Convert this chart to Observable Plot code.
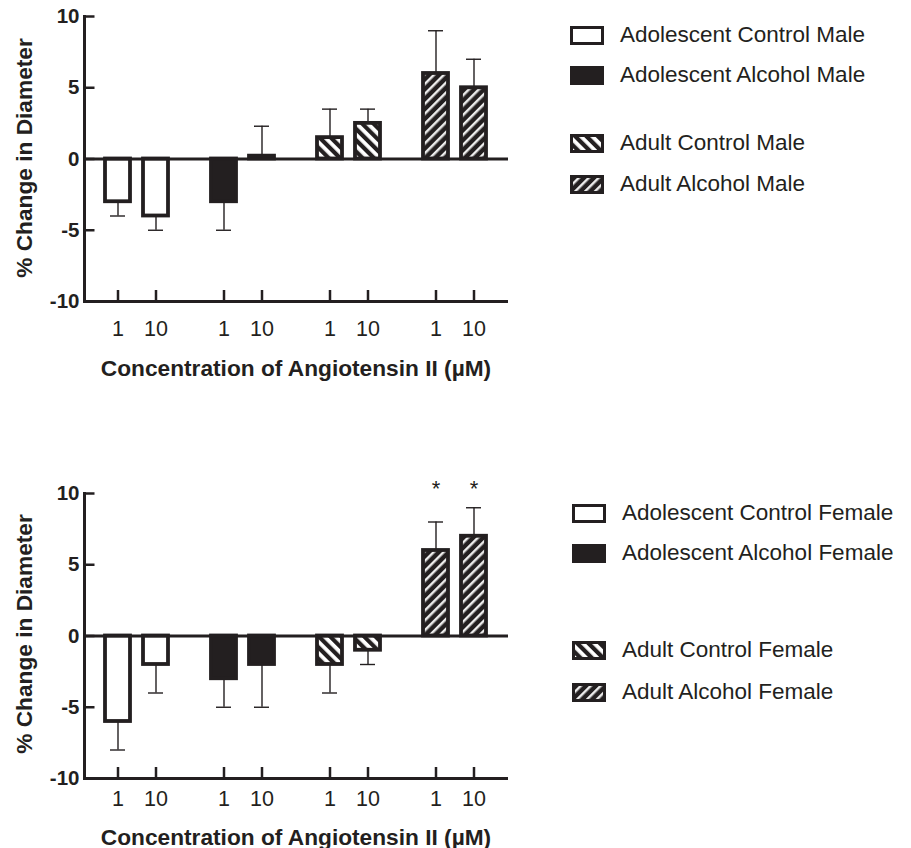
<!DOCTYPE html>
<html><head><meta charset="utf-8">
<script src="https://cdn.jsdelivr.net/npm/d3@7"></script>
<script src="https://cdn.jsdelivr.net/npm/@observablehq/plot@0.6"></script>
<style>
body{margin:0;background:#fff;font-family:Arial,"Liberation Sans",Helvetica,sans-serif;color:#231f20}
#root{position:relative;width:911px;height:848px;overflow:hidden}
.ylab{position:absolute;font-weight:bold;font-size:22.7px;white-space:nowrap;transform:translate(-50%,-50%) rotate(-90deg)}
.xlab{position:absolute;font-weight:bold;font-size:22.7px;white-space:nowrap;transform:translate(-50%,-50%)}
.leg{position:absolute;font-size:22.5px;white-space:nowrap;display:flex;align-items:center;height:30px}
.leg svg{margin-right:16px;flex:none}
</style></head>
<body>
<svg width="0" height="0" style="position:absolute">
  <defs>
    <pattern id="pAdultControl" patternUnits="userSpaceOnUse" width="8" height="8" patternTransform="rotate(-45)">
      <rect width="8" height="8" fill="#ffffff"/>
      <rect width="4.2" height="8" fill="#231f20"/>
    </pattern>
    <pattern id="pAdultAlcohol" patternUnits="userSpaceOnUse" width="7" height="7" patternTransform="rotate(45)">
      <rect width="7" height="7" fill="#231f20"/>
      <rect width="2.5" height="7" fill="#ececec"/>
    </pattern>
  </defs>
</svg>
<div id="root"></div>
<script>
// ---------- data ----------
const doses = ["1", "10"];
const groups = ["Adolescent Control", "Adolescent Alcohol", "Adult Control", "Adult Alcohol"];
const groupFills = ["#ffffff", "#231f20", "url(#pAdultControl)", "url(#pAdultAlcohol)"];
const yTicks = [-10, -5, 0, 5, 10];

// order: group0 dose1, group0 dose10, group1 dose1, ...
const maleMean = [-3, -4, -3, 0.2, 1.5, 2.5, 6, 5];
const maleErr  = [1, 1, 2, 2.1, 2, 1, 3, 2];
const maleSig  = [false, false, false, false, false, false, false, false];

const femaleMean = [-6, -2, -3, -2, -2, -1, 6, 7];
const femaleErr  = [2, 2, 2, 3, 2, 1, 2, 2];
const femaleSig  = [false, false, false, false, false, false, true, true];

const maleLegend = ["Adolescent Control Male", "Adolescent Alcohol Male", "Adult Control Male", "Adult Alcohol Male"];
const femaleLegend = ["Adolescent Control Female", "Adolescent Alcohol Female", "Adult Control Female", "Adult Alcohol Female"];

const yTitle = "% Change in Diameter";
const xTitle = "Concentration of Angiotensin II (µM)";

// ---------- drawing ----------
const ink = "#231f20";
const font = 'Arial, "Liberation Sans", Helvetica, sans-serif';
const root = document.getElementById("root");

function makePanel(mean, err, sig, tickPad) {
  const rows = [];
  groups.forEach((g, gi) => doses.forEach((d, di) => {
    const i = gi * doses.length + di;
    rows.push({group: g, dose: d, mean: mean[i],
      tip: mean[i] + (mean[i] < 0 ? -err[i] : err[i]), sig: sig[i]});
  }));
  const W = 520, mL = 83, mR = 11, mT = 16, frameH = 285, mB = 50;
  const facetW = (W - mL - mR) / groups.length;
  return Plot.plot({
    width: W, height: mT + frameH + mB,
    marginLeft: mL, marginRight: mR, marginTop: mT, marginBottom: mB,
    style: {fontFamily: font, color: ink, background: "transparent", overflow: "visible"},
    fx: {domain: groups, padding: 0, axis: null},
    x: {domain: doses, paddingInner: 0.33, paddingOuter: 0.53},
    y: {domain: [-10, 10]},
    color: {type: "ordinal", domain: groups, range: groupFills},
    marks: [
      Plot.ruleY([-10], {stroke: ink, strokeWidth: 3}),
      Plot.frame({anchor: "left", facetAnchor: "left", stroke: ink, strokeWidth: 3}),
      Plot.tickY(yTicks, {y: d => d, facetAnchor: "left", insetRight: facetW - 11, stroke: ink, strokeWidth: 2.5}),
      Plot.tickX(rows, {fx: "group", x: "dose", insetTop: frameH - 11, stroke: ink, strokeWidth: 2.5}),
      Plot.axisY({ticks: yTicks, tickSize: 0, tickPadding: 5, fontSize: 20.5, fontWeight: "bold", label: null, tickFormat: d => String(d)}),
      Plot.axisX({tickSize: 0, tickPadding: tickPad, fontSize: 21.5, label: null}),
      Plot.ruleX(rows, {fx: "group", x: "dose", y1: "mean", y2: "tip", stroke: ink, strokeWidth: 1.4}),
      Plot.tickY(rows, {fx: "group", x: "dose", y: "tip", inset: 5, stroke: ink, strokeWidth: 1.4}),
      Plot.barY(rows, {fx: "group", x: "dose", y: "mean", fill: "group", stroke: ink, strokeWidth: 3.8}),
      Plot.ruleY([0], {stroke: ink, strokeWidth: 3}),
      Plot.text(rows.filter(d => d.sig), {fx: "group", x: "dose", text: () => "*", frameAnchor: "top", dy: -13, fontSize: 22, fill: ink})
    ]
  });
}

function place(el, left, top) {
  el.style.position = "absolute"; el.style.left = left + "px"; el.style.top = top + "px";
  root.appendChild(el);
}

function addText(cls, text, left, top) {
  const d = document.createElement("div");
  d.className = cls; d.textContent = text;
  d.style.left = left + "px"; d.style.top = top + "px";
  root.appendChild(d);
}

function addLegend(labels, left, centers) {
  labels.forEach((lab, i) => {
    const row = document.createElement("div");
    row.className = "leg";
    row.style.left = left + "px"; row.style.top = (centers[i] - 15) + "px";
    const ns = "http://www.w3.org/2000/svg";
    const s = document.createElementNS(ns, "svg");
    s.setAttribute("width", 34); s.setAttribute("height", 19);
    const r = document.createElementNS(ns, "rect");
    r.setAttribute("x", 1.5); r.setAttribute("y", 1.5);
    r.setAttribute("width", 31); r.setAttribute("height", 16);
    r.setAttribute("fill", groupFills[i]); r.setAttribute("stroke", ink); r.setAttribute("stroke-width", 3);
    s.appendChild(r);
    const t = document.createElement("span"); t.textContent = lab;
    row.appendChild(s); row.appendChild(t);
    root.appendChild(row);
  });
}

// top panel (male)
place(makePanel(maleMean, maleErr, maleSig, 19), 0, 0);
addText("ylab", yTitle, 24, 158);
addText("xlab", xTitle, 296, 368);
addLegend(maleLegend, 570, [35, 75, 143, 184]);

// bottom panel (female)
place(makePanel(femaleMean, femaleErr, femaleSig, 12), 0, 477);
addText("ylab", yTitle, 24, 634);
addText("xlab", xTitle, 296, 837);
addLegend(femaleLegend, 572, [513, 553, 650, 692]);
</script>
</body></html>
